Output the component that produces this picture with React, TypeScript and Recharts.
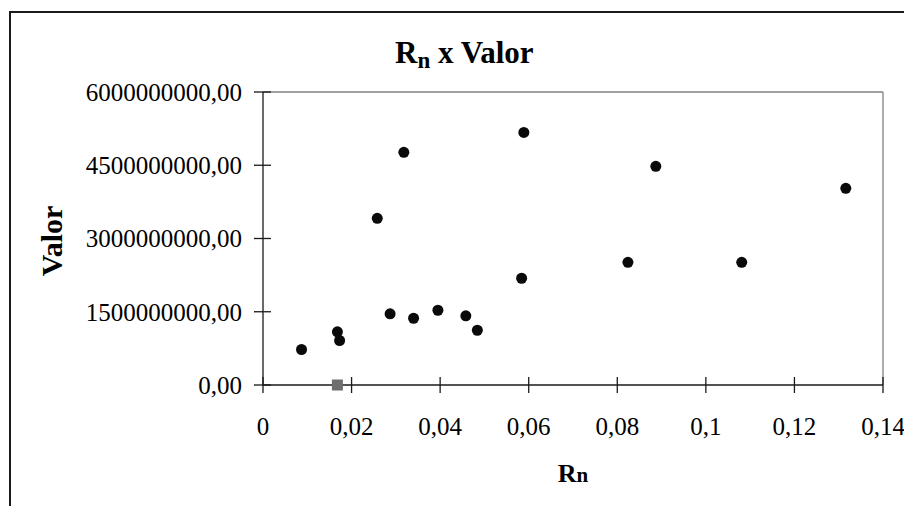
import React from 'react';
import { ScatterChart, Scatter, XAxis, YAxis, ReferenceLine } from 'recharts';

// Rn values (x) and Valor values (y) of the black series
const rnValues = [0.0087, 0.0168, 0.0173, 0.0258, 0.0287, 0.0318, 0.0340, 0.0395, 0.0458, 0.0484, 0.0584, 0.0589, 0.0824, 0.0887, 0.1081, 0.1316];
const valorValues = [727000000, 1089000000, 911000000, 3413000000, 1457000000, 4764000000, 1367000000, 1531000000, 1416000000, 1121000000, 2186000000, 5173000000, 2513000000, 4478000000, 2513000000, 4027000000];

// grey square series
const greyRn = [0.0168];
const greyValor = [0];

const xTicks = [0, 0.02, 0.04, 0.06, 0.08, 0.1, 0.12, 0.14];
const yTicks = [0, 1500000000, 3000000000, 4500000000, 6000000000];

const mainData = rnValues.map((x, i) => ({ x, y: valorValues[i] }));
const greyData = greyRn.map((x, i) => ({ x, y: greyValor[i] }));

const FONT = '"Liberation Serif", "Times New Roman", serif';
const AXIS = '#1a1a1a';
const TICK = 8;

const fmtX = (v: number) => String(v).replace('.', ',');
const fmtY = (v: number) => `${v},00`;

const XTick = (props: any) => {
  const { x, y, payload } = props;
  const ay = y - TICK;
  return (
    <g>
      <line x1={x} x2={x} y1={ay - 8} y2={ay + 8} stroke={AXIS} strokeWidth={1.3} />
      <text x={x} y={ay + 50} textAnchor="middle" fontFamily={FONT} fontSize={25} fill="#000">
        {fmtX(payload.value)}
      </text>
    </g>
  );
};

const YTick = (props: any) => {
  const { x, y, payload } = props;
  const ax = x + TICK;
  return (
    <g>
      <line x1={ax - 9} x2={ax + 8} y1={y} y2={y} stroke={AXIS} strokeWidth={1.3} />
      <text x={ax - 21} y={y} dy="0.35em" textAnchor="end" fontFamily={FONT} fontSize={25} fill="#000">
        {fmtY(payload.value)}
      </text>
    </g>
  );
};

const Dot = (p: any) => <circle cx={p.cx} cy={p.cy} r={5.5} fill="#0a0a0a" />;
const Square = (p: any) => <rect x={p.cx - 5.5} y={p.cy - 5.5} width={11} height={11} fill="#6e6e6e" />;

export default function App() {
  return (
    <div style={{ position: 'relative', width: 896, height: 498, background: '#fff' }}>
      <div
        style={{
          position: 'absolute',
          left: 1,
          top: 3,
          width: 895,
          height: 495,
          borderLeft: '2px solid #1a1a1a',
          borderTop: '2px solid #1a1a1a',
          boxSizing: 'border-box',
        }}
      />
      <div style={{ position: 'absolute', left: 0, top: 0 }}>
        <ScatterChart width={896} height={498} margin={{ top: 84, right: 21, bottom: 21, left: 0 }}>
          <XAxis
            type="number"
            dataKey="x"
            domain={[0, 0.14]}
            ticks={xTicks}
            height={100}
            tickSize={TICK}
            tickMargin={0}
            tickLine={false}
            axisLine={{ stroke: AXIS, strokeWidth: 1.3 }}
            tick={<XTick />}
            interval={0}
          />
          <YAxis
            type="number"
            dataKey="y"
            domain={[0, 6000000000]}
            ticks={yTicks}
            width={255}
            tickSize={TICK}
            tickMargin={0}
            tickLine={false}
            axisLine={{ stroke: AXIS, strokeWidth: 1.3 }}
            tick={<YTick />}
            interval={0}
          />
          <ReferenceLine y={6000000000} stroke="#808080" strokeWidth={1.3} />
          <ReferenceLine x={0.14} stroke="#808080" strokeWidth={1.3} />
          <Scatter data={mainData} shape={<Dot />} isAnimationActive={false} />
          <Scatter data={greyData} shape={<Square />} isAnimationActive={false} />
        </ScatterChart>
      </div>
      <svg
        width={896}
        height={498}
        style={{ position: 'absolute', left: 0, top: 0, pointerEvents: 'none' }}
      >
        <text x={387} y={55.3} fontFamily={FONT} fontWeight="bold" fontSize={31} fill="#000">
          <tspan>R</tspan>
          <tspan fontSize={23} dy={5}>n</tspan>
          <tspan dy={-5}> x Valor</tspan>
        </text>
        <text
          x={0}
          y={0}
          transform="translate(54,233) rotate(-90)"
          textAnchor="middle"
          fontFamily={FONT}
          fontWeight="bold"
          fontSize={30}
          fill="#000"
        >
          Valor
        </text>
        <text x={565} y={474} textAnchor="middle" fontFamily={FONT} fontWeight="bold" fill="#000">
          <tspan fontSize={26}>R</tspan>
          <tspan fontSize={21}>n</tspan>
        </text>
      </svg>
    </div>
  );
}
